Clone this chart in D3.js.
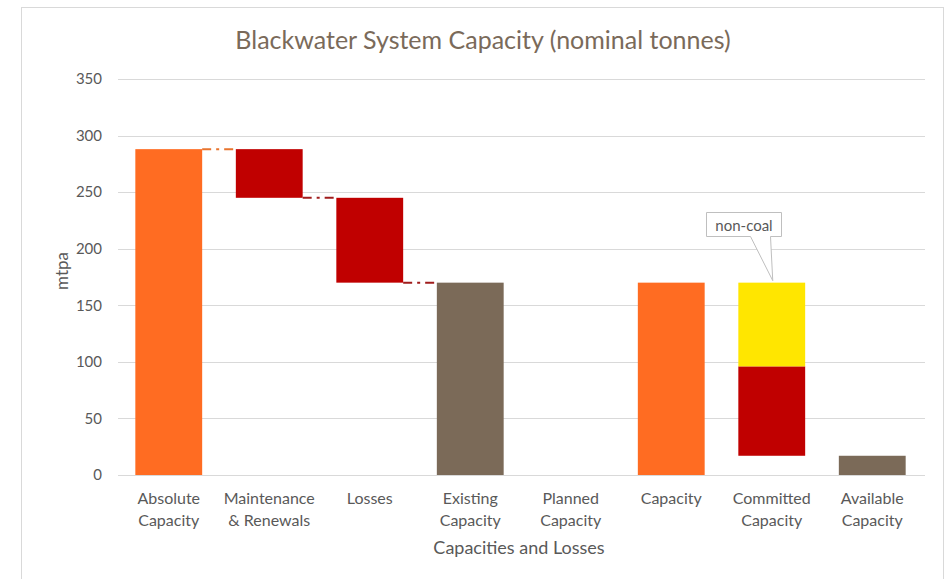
<!DOCTYPE html>
<html>
<head>
<meta charset="utf-8">
<script src="https://cdn.jsdelivr.net/npm/d3@7"></script>
<style>
  html, body { margin: 0; padding: 0; background: #ffffff; }
  svg { display: block; font-family: Lato, "Open Sans", sans-serif; }
</style>
</head>
<body>
<svg id="chart" width="948" height="579"></svg>
<script>
// Categories along the x axis (two-line labels)
const categories = [
  ["Absolute", "Capacity"],
  ["Maintenance", "& Renewals"],
  ["Losses"],
  ["Existing", "Capacity"],
  ["Planned", "Capacity"],
  ["Capacity"],
  ["Committed", "Capacity"],
  ["Available", "Capacity"]
];
// Floating bar segments: [base, top] in mtpa
const segBase = [0, 245, 170, 0, 0, 0, 17, 96, 0];
const segTop  = [288, 288, 245, 170, 0, 170, 96, 170, 17];
const segCat  = [0, 1, 2, 3, 4, 5, 6, 6, 7];
const segKind = ["orange", "red", "red", "brown", "brown", "orange", "red", "yellow", "brown"];
// Y axis ticks
const yTicks = [0, 50, 100, 150, 200, 250, 300, 350];
// Step connector levels: from category index to next, at value
const connFrom  = [0, 1, 2];
const connLevel = [288, 245, 170];
const connKind  = ["orange", "red", "red"];

const colors = {
  orange: "#FF6C22",
  red: "#C00000",
  brown: "#7B6A58",
  yellow: "#FFE600"
};

const svg = d3.select("#chart");

// Outer chart frame
svg.append("rect")
  .attr("x", 21.5).attr("y", 7.5)
  .attr("width", 922).attr("height", 600)
  .attr("fill", "#ffffff")
  .attr("stroke", "#d9d9d9").attr("stroke-width", 1);

const x = d3.scaleBand()
  .domain(d3.range(categories.length))
  .range([118.5, 922.5])
  .paddingInner(0.335)
  .paddingOuter(0.1675);

const y = d3.scaleLinear().domain([0, 350]).range([475, 79]);

// Gridlines
svg.append("g")
  .selectAll("line")
  .data(yTicks)
  .join("line")
  .attr("x1", 118).attr("x2", 925)
  .attr("y1", d => Math.round(y(d)) + 0.5)
  .attr("y2", d => Math.round(y(d)) + 0.5)
  .attr("stroke", "#d9d9d9").attr("stroke-width", 1);

// Y axis labels
const yAxis = d3.axisLeft(y).tickValues(yTicks).tickSize(0).tickPadding(0);
const gy = svg.append("g").attr("transform", "translate(102,0)").call(yAxis);
gy.select(".domain").remove();
gy.selectAll("text")
  .attr("fill", "#595959")
  .style("font-size", "15px")
  .style("font-family", "Lato, 'Open Sans', sans-serif");

// Bars
svg.append("g")
  .selectAll("rect")
  .data(segTop.map((t, i) => ({ top: t, base: segBase[i], cat: segCat[i], kind: segKind[i] })))
  .join("rect")
  .attr("x", d => x(d.cat))
  .attr("width", x.bandwidth())
  .attr("y", d => y(d.top))
  .attr("height", d => y(d.base) - y(d.top))
  .attr("fill", d => colors[d.kind]);

// Dash-dot step connectors between waterfall bars
svg.append("g")
  .selectAll("line")
  .data(connFrom.map((c, i) => ({ c, v: connLevel[i], kind: connKind[i] })))
  .join("line")
  .attr("x1", d => x(d.c) + x.bandwidth())
  .attr("x2", d => x(d.c + 1))
  .attr("y1", d => y(d.v))
  .attr("y2", d => y(d.v))
  .attr("stroke", d => d.kind === "orange" ? "#E8742E" : "#A01C1C")
  .attr("stroke-width", 2)
  .attr("stroke-dasharray", "9,5,3,5");

// Callout for the non-coal share
const cx = x(6) + x.bandwidth() / 2;
const tip = { x: cx + 1, y: y(170) - 2 };
const box = { x0: 706.5, x1: 781.5, y0: 212.5, y1: 236.5 };
svg.append("path")
  .attr("d", `M${box.x0},${box.y0} H${box.x1} V${box.y1} H${box.x1 - 11} L${tip.x},${tip.y} L${box.x1 - 31},${box.y1} H${box.x0} Z`)
  .attr("fill", "#ffffff")
  .attr("stroke", "#bfbfbf").attr("stroke-width", 1);
svg.append("text")
  .attr("x", (box.x0 + box.x1) / 2).attr("y", 231)
  .attr("text-anchor", "middle")
  .attr("fill", "#595959")
  .style("font-size", "15px")
  .text("non-coal");

// X category labels
const gx = svg.append("g");
categories.forEach((lines, i) => {
  const t = gx.append("text")
    .attr("x", x(i) + x.bandwidth() / 2)
    .attr("y", 504)
    .attr("text-anchor", "middle")
    .attr("fill", "#595959")
    .style("font-size", "16px");
  lines.forEach((ln, j) => {
    t.append("tspan")
      .attr("x", x(i) + x.bandwidth() / 2)
      .attr("dy", j === 0 ? 0 : 22)
      .text(ln);
  });
});

// Axis titles
svg.append("text")
  .attr("x", 519).attr("y", 554)
  .attr("text-anchor", "middle")
  .attr("fill", "#595959")
  .style("font-size", "18px")
  .text("Capacities and Losses");

svg.append("text")
  .attr("transform", "translate(68,271) rotate(-90)")
  .attr("text-anchor", "middle")
  .attr("fill", "#595959")
  .style("font-size", "17px")
  .text("mtpa");

// Chart title
svg.append("text")
  .attr("x", 483).attr("y", 49)
  .attr("text-anchor", "middle")
  .attr("fill", "#7A6A5A")
  .style("font-size", "25px")
  .text("Blackwater System Capacity (nominal tonnes)");
</script>
</body>
</html>
